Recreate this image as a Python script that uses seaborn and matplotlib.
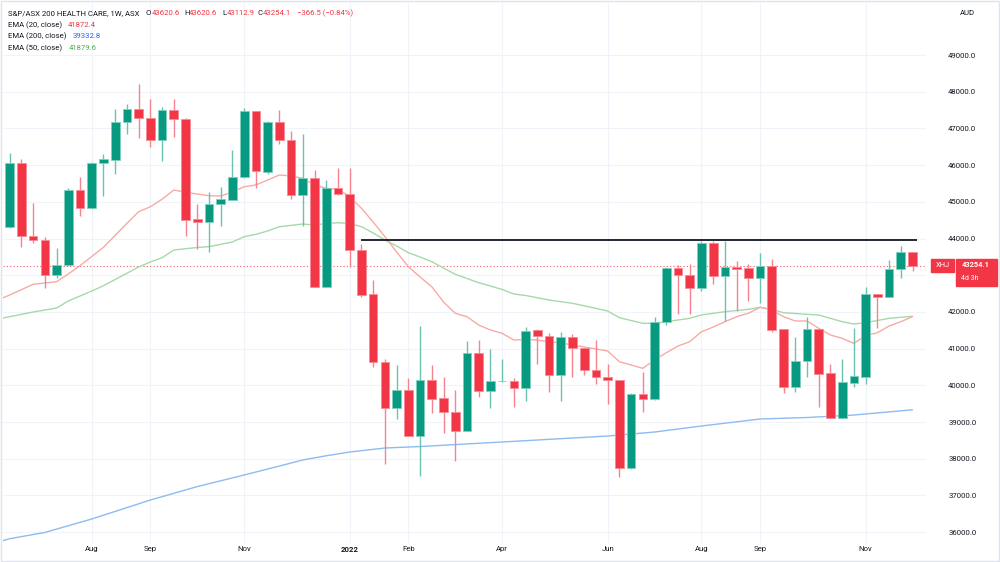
import numpy as np
import pandas as pd
import matplotlib.pyplot as plt
import seaborn as sns

# weekly bars, S&P/ASX 200 Health Care (XHJ)
semanas = pd.date_range('2021-06-14', periods=78, freq='W-MON')

opens = [44305, 46049, 44076, 43967, 43013, 43278, 45321, 44823, 46049, 46139,
         47174, 47520, 47291, 46684, 47501, 47264, 44523, 44458, 44932, 45057,
         45667, 47466, 45820, 47183, 46684, 45185, 45640, 42687, 45368, 45204,
         43687, 42479, 40635, 39390, 39871, 38627, 40152, 39645, 39280, 38754,
         40872, 39845, 40105, 40109, 39934, 41498, 41351, 40280, 41308, 41016,
         40417, 40234, 40144, 37738, 39755, 39627, 41733, 43204, 43005, 42643,
         43869, 42978, 43223, 43188, 42915, 43259, 41526, 39962, 40670, 41526,
         40326, 39117, 40072, 40234, 42488, 42414, 43169, 43620.6]
highs = [46338, 46174, 44975, 44049, 43733, 45384, 45667, 46090, 46294, 47520,
         47673, 48218, 47801, 47583, 47809, 47291, 44932, 45267, 45395, 46403,
         47548, 47480, 47190, 47510, 46929, 46839, 45858, 45594, 45913, 45929,
         43850, 42869, 40708, 40553, 40190, 41624, 40561, 40218, 39872, 41207,
         41234, 40989, 40725, 40190, 41580, 41534, 41417, 41461, 41398, 41030,
         41234, 40580, 40150, 39790, 40354, 41853, 43230, 43278, 43305, 43940,
         43940, 43940, 43395, 43305, 43597, 43433, 41530, 41308, 41869, 41530,
         40580, 40725, 41570, 42687, 42490, 43414, 43804, 43620.6]
lows = [44290, 43776, 43869, 42659, 42923, 43260, 44621, 44810, 45166, 45766,
        46856, 46730, 46485, 46120, 46774, 44068, 43722, 43624, 44349, 45040,
        45640, 45384, 45766, 46583, 45076, 44340, 42680, 42680, 45190, 43232,
        42414, 40490, 37847, 39081, 38620, 37536, 39237, 38692, 37937, 38750,
        39689, 39373, 40100, 39417, 39572, 40580, 39825, 39572, 40218, 40272,
        40027, 39490, 37509, 37730, 39280, 39600, 41643, 41935, 41943, 42577,
        42760, 41760, 42033, 42297, 42251, 41444, 39782, 39825, 40234, 39417,
        39100, 39100, 39962, 40036, 41570, 42400, 42924, 43112.9]
closes = [46049, 44068, 43959, 43013, 43278, 45321, 44823, 46065, 46158, 47183,
          47520, 47291, 46684, 47501, 47264, 44504, 44458, 44940, 45068, 45676,
          47466, 45839, 47183, 46684, 45185, 45640, 42687, 45368, 45204, 43687,
          42460, 40627, 39390, 39880, 38627, 40152, 39627, 39280, 38754, 40872,
          39845, 40117, 40117, 39934, 41488, 41351, 40280, 41308, 41016, 40417,
          40226, 40144, 37738, 39755, 39627, 41733, 43204, 42997, 42643, 43869,
          42978, 43232, 43169, 42915, 43259, 41507, 39962, 40670, 41526, 40308,
          39117, 40082, 40253, 42488, 42414, 43169, 43632, 43254.1]

# EMAs read at bar positions (index of weekly bar)
ema20_pos = [-1, 0, 2, 4, 5, 6, 8, 10, 11, 12, 13, 14, 15, 16, 17, 18, 19, 20, 21,
             22, 23, 24, 25, 26, 27, 28, 29, 30, 31, 32, 33, 34, 35, 36, 37, 38,
             39, 40, 41, 42, 43, 44, 45, 46, 47, 48, 49, 50, 51, 52, 53, 54, 55,
             56, 57, 58, 59, 60, 61, 62, 63, 64, 65, 66, 67, 68, 69, 70, 71, 72,
             73, 74, 75, 76, 77]
ema20_val = [42324, 42460, 42752, 42823, 43033, 43259, 43760, 44414, 44730, 44866,
             45071, 45321, 45259, 45212, 45166, 45158, 45267, 45412, 45458, 45594,
             45730, 45703, 45640, 45458, 45368, 45341, 45139, 44823, 44450, 44049,
             43632, 43232, 42951, 42687, 42270, 41962, 41869, 41643, 41507, 41417,
             41234, 41248, 41234, 41189, 41153, 41098, 41043, 40989, 40934, 40643,
             40553, 40463, 40689, 40888, 41071, 41188, 41460, 41588, 41733, 41869,
             41962, 42125, 42052, 41869, 41752, 41752, 41553, 41371, 41281, 41144,
             41351, 41433, 41616, 41733, 41872.4]
ema50_pos = [-1, 0, 2, 4, 5, 6, 7, 8, 10, 11, 12, 13, 14, 16, 17, 19, 20, 21, 22,
             23, 25, 26, 27, 28, 29, 30, 31, 32, 33, 34, 35, 36, 37, 38, 40, 41,
             42, 43, 44, 46, 48, 50, 51, 52, 54, 55, 56, 57, 58, 59, 61, 63, 64,
             65, 66, 68, 69, 71, 72, 73, 75, 77]
ema50_val = [41806, 41870, 41997, 42106, 42297, 42433, 42569, 42714, 43052, 43224,
             43360, 43477, 43687, 43755, 43778, 43905, 44049, 44114, 44204, 44322,
             44395, 44368, 44409, 44430, 44409, 44322, 44150, 43959, 43796, 43613,
             43496, 43368, 43196, 43025, 42796, 42706, 42610, 42488, 42447, 42324,
             42234, 42098, 42024, 41842, 41689, 41689, 41733, 41779, 41825, 41916,
             42006, 42070, 42125, 42070, 41978, 41934, 41916, 41733, 41670, 41706,
             41825, 41879.6]
ema200_pos = [-1, 0, 3, 7, 12, 16, 20, 23, 25, 27, 29, 32, 35, 42, 51, 55, 59, 64,
              68, 72, 77]
ema200_val = [35730, 35820, 35990, 36357, 36874, 37240, 37556, 37800, 37965, 38080,
              38182, 38291, 38332, 38455, 38618, 38727, 38891, 39082, 39122, 39190,
              39332.8]

nivel = 43950  # horizontal resistance line

tick_pos = [7, 12, 20, 29, 34, 42, 51, 59, 64, 73]
tick_lab = ['Aug', 'Sep', 'Nov', '2022', 'Feb', 'Apr', 'Jun', 'Aug', 'Sep', 'Nov']

VERDE = '#089981'
ROJO = '#f23645'

datos = pd.DataFrame({'fecha': semanas, 'open': opens, 'high': highs,
                      'low': lows, 'close': closes})
datos['pos'] = np.arange(len(datos))
sube = datos['close'] >= datos['open']

sns.set_theme(style='white')
plt.rcParams['font.family'] = ['Roboto', 'DejaVu Sans']

fig = plt.figure(figsize=(10, 5.62), dpi=100)
ax = fig.add_axes([0.003, 1 - 543 / 562, 0.923, 540 / 562])

# wicks
ax.vlines(datos['pos'], datos['low'], datos['high'],
          colors=np.where(sube, '#6cc2b1', '#f7838f'), lw=1, zorder=3)
# bodies
cuerpo = (datos['close'] - datos['open']).abs().clip(lower=25)
base = datos[['open', 'close']].min(axis=1)
ax.bar(datos['pos'], cuerpo, bottom=base, width=0.74,
       color=np.where(sube, VERDE, ROJO),
       edgecolor=np.where(sube, '#7fd0c0', '#f88a95'), lw=0.6, zorder=4)

# EMAs
sns.lineplot(x=ema200_pos, y=ema200_val, color='#8cbcf0', lw=1, ax=ax,
             estimator=None, zorder=2)
sns.lineplot(x=ema50_pos, y=ema50_val, color='#a6d9a8', lw=1, ax=ax,
             estimator=None, zorder=2)
sns.lineplot(x=ema20_pos, y=ema20_val, color='#f8aaa5', lw=1, ax=ax,
             estimator=None, zorder=2)

ax.hlines(nivel, 30, 77.4, color='#131722', lw=1.3, zorder=5)
ax.axhline(closes[-1], color=ROJO, ls=(0, (1, 2)), lw=0.8, alpha=0.8, zorder=1)

ax.set_xlim(-0.57, 78.15)
ax.set_ylim(35703, 50417)

# the 43000 label sits under the last-price tag, so it stays empty
niveles_y = list(range(36000, 50000, 1000))
ax.yaxis.tick_right()
ax.set_yticks(niveles_y)
ax.set_yticklabels(['' if v == 43000 else f'{v:.1f}' for v in niveles_y])
ax.tick_params(axis='y', length=0, pad=16, labelsize=5.6, labelcolor='#131722')
ax.set_xticks(tick_pos)
ax.set_xticklabels(tick_lab)
ax.get_xticklabels()[3].set_fontweight('bold')
ax.tick_params(axis='x', length=0, pad=2, labelsize=5.6, labelcolor='#131722')
ax.set_xlabel('')
ax.set_ylabel('')
ax.grid(True, color='#f0f3fa', lw=0.8)
ax.set_axisbelow(True)
for s in ax.spines.values():
    s.set_visible(False)

# frame around the whole picture
fig.add_artist(plt.Rectangle((0.0005, 0.001), 0.998, 0.997, transform=fig.transFigure,
                             fill=False, edgecolor='#e0e3eb', lw=1))


def px(x, y):
    return x / 1000, 1 - y / 562


# legend texts at top-left
TXT = '#131722'
fs = 5.6
fig.text(*px(8, 13), 'S&P/ASX 200 HEALTH CARE, 1W, ASX', color=TXT, fontsize=fs, va='center')
for xl, letra, xv, val in [(146, 'O', 152, '43620.6'), (184, 'H', 189, '43620.6'),
                           (222, 'L', 227, '43112.9'), (258, 'C', 263, '43254.1')]:
    fig.text(*px(xl, 13), letra, color=TXT, fontsize=fs, va='center')
    fig.text(*px(xv, 13), val, color=ROJO, fontsize=fs, va='center')
fig.text(*px(297, 13), '\u2212366.5 (\u22120.84%)', color=ROJO, fontsize=fs, va='center')

for yy, nombre, xv, val, col in [(25, 'EMA (20, close)', 68, '41872.4', ROJO),
                                  (36, 'EMA (200, close)', 73, '39332.8', '#2962ff'),
                                  (48, 'EMA (50, close)', 69, '41879.6', '#4caf50')]:
    fig.text(*px(8, yy), nombre, color=TXT, fontsize=fs, va='center')
    fig.text(*px(xv, yy), val, color=col, fontsize=fs, va='center')

fig.text(*px(960, 13), 'AUD', color=TXT, fontsize=fs, va='center')

# last price tags on the right
fig.add_artist(plt.Rectangle(px(931, 272), 23 / 1000, 13 / 562,
                             transform=fig.transFigure, color=ROJO))
fig.text(*px(942.5, 265.5), 'XHJ', color='white', fontsize=5.4, ha='center', va='center')
fig.add_artist(plt.Rectangle(px(956, 286), 41 / 1000, 27 / 562,
                             transform=fig.transFigure, color=ROJO))
fig.text(*px(976, 265), '43254.1', color='white', fontsize=5.4, ha='center',
         va='center', fontweight='bold')
fig.text(*px(961, 279), '4d 3h', color='white', fontsize=5.0, ha='left', va='center')

plt.savefig('out.png', dpi=100)
